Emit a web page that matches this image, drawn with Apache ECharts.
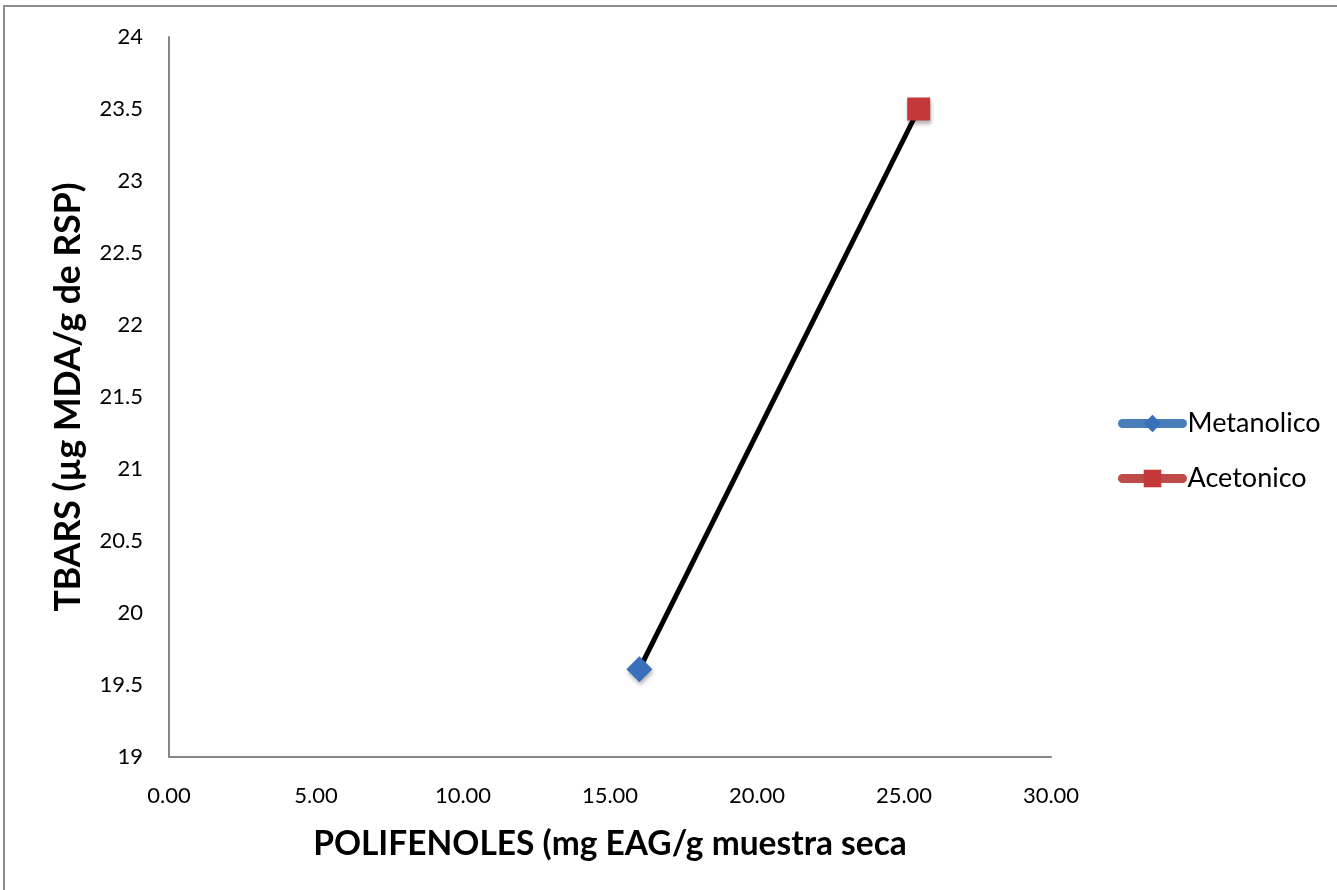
<!DOCTYPE html>
<html><head><meta charset="utf-8">
<script src="https://cdn.jsdelivr.net/npm/echarts@6/dist/echarts.min.js"></script>
<style>html,body{margin:0;padding:0;background:#fff}#c{width:1337px;height:890px;position:relative}
#frame{position:absolute;left:3px;top:5px;right:-10px;bottom:-10px;border:2px solid #8c8c8c;pointer-events:none}</style>
</head><body><div id="c"></div><div id="frame" style="position:absolute"></div>
<script>
const seriesNames = ['Metanolico', 'Acetonico'];
const metanolico = [[16.0, 19.61]];
const acetonico = [[25.5, 23.5]];
const xTicks = [0, 5, 10, 15, 20, 25, 30];
const yTicks = [19, 19.5, 20, 20.5, 21, 21.5, 22, 22.5, 23, 23.5, 24];
const xTitle = 'POLIFENOLES (mg EAG/g muestra seca';
const yTitle = 'TBARS (µg MDA/g de RSP)';

const chart = echarts.init(document.getElementById('c'), null, {renderer:'canvas'});
const font = 'Lato, "Open Sans", sans-serif';
chart.setOption({
  animation: false,
  backgroundColor: '#fff',
  grid: {left: 169, right: 286, top: 37, bottom: 133},
  legend: {
    orient: 'vertical', left: 1113, top: 405, itemGap: 28,
    itemWidth: 60, itemHeight: 22,
    lineStyle: {width: 9, cap: 'round'},
    textStyle: {fontFamily: font, fontSize: 27, color: '#000'},
    data: seriesNames
  },
  xAxis: {
    type: 'value', min: xTicks[0], max: xTicks[xTicks.length-1], interval: 5,
    name: xTitle, nameLocation: 'middle', nameGap: 70,
    nameTextStyle: {fontFamily: font, fontSize: 33.5, fontWeight: 'bold', color: '#000'},
    axisLine: {show: true, lineStyle: {color: '#868686', width: 2}},
    axisTick: {show: false}, splitLine: {show: false},
    axisLabel: {fontFamily: font, fontSize: 22, color: '#000', margin: 28, formatter: v => v.toFixed(2)}
  },
  yAxis: {
    type: 'value', min: yTicks[0], max: yTicks[yTicks.length-1], interval: 0.5,
    name: yTitle, nameLocation: 'middle', nameGap: 82, nameRotate: 90,
    nameTextStyle: {fontFamily: font, fontSize: 35.5, fontWeight: 'bold', color: '#000'},
    axisLine: {show: true, lineStyle: {color: '#868686', width: 2}},
    axisTick: {show: false}, splitLine: {show: false},
    axisLabel: {fontFamily: font, fontSize: 22, color: '#000', margin: 26}
  },
  series: [
    {
      name: 'trend', type: 'line', data: metanolico.concat(acetonico),
      symbol: 'none', lineStyle: {color: '#000', width: 5}, z: 1, silent: true
    },
    {
      name: seriesNames[0], type: 'line', data: metanolico,
      symbol: 'diamond', symbolSize: 26,
      itemStyle: {color: '#3a70bb', shadowColor: 'rgba(0,0,0,0.3)', shadowBlur: 4, shadowOffsetX: 1, shadowOffsetY: 3},
      lineStyle: {color: '#4a7ebb', width: 9}, z: 3
    },
    {
      name: seriesNames[1], type: 'line', data: acetonico,
      symbol: 'rect', symbolSize: 23,
      itemStyle: {color: '#c4383a', shadowColor: 'rgba(0,0,0,0.3)', shadowBlur: 4, shadowOffsetX: 1, shadowOffsetY: 3},
      lineStyle: {color: '#be4b48', width: 9}, z: 3
    }
  ]
});
</script></body></html>
